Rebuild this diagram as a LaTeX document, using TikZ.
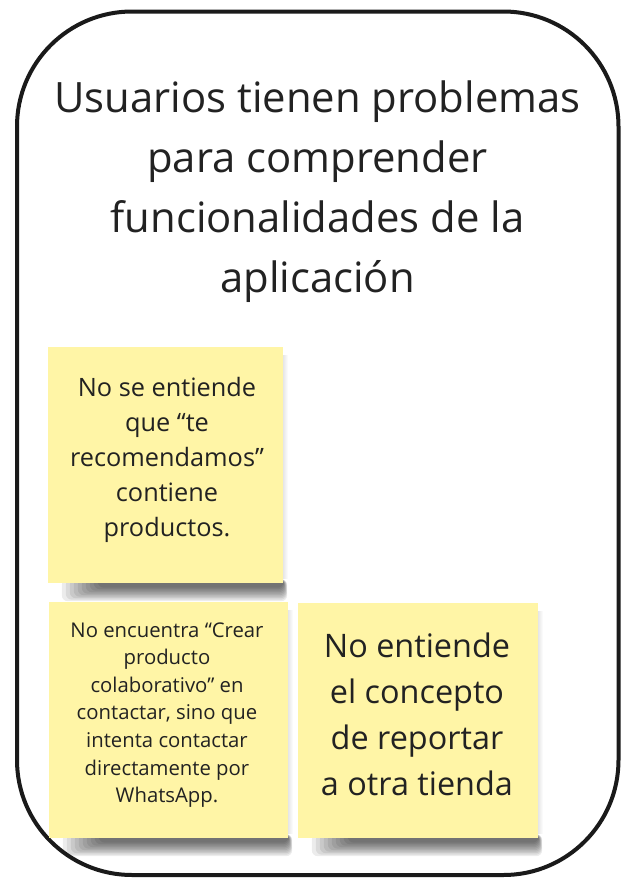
\documentclass[tikz,border=0pt]{standalone}
\usepackage{fontspec}
\setmainfont{Open Sans}
\usetikzlibrary{backgrounds}
\definecolor{ink}{HTML}{222222}
\definecolor{frame}{HTML}{1A1A1A}
\definecolor{sticky}{HTML}{FFF5A6}
\tikzset{
  notebox/.style={draw=none, fill=sticky, inner sep=0pt},
  notetext/.style={align=center, text=ink, inner sep=0pt},
  shadowlayer/.style={fill=black, opacity=0.075},
}
\begin{document}
\begin{tikzpicture}[x=1pt,y=-1pt]
\useasboundingbox (0,0) rectangle (632,886);
\draw[line width=4pt, draw=frame, rounded corners=115pt] (17,11.5) rectangle (618.5,875);
\node[notetext, font=\fontsize{41.8}{60}\selectfont] (title) at (317.5,192) {Usuarios tienen problemas\\para comprender\\funcionalidades de la\\aplicación};
% sticky 1
\node[notebox, minimum width=235pt, minimum height=236pt] (s1) at (165.5,465) {};
\node[notetext, font=\fontsize{25.3}{35}\selectfont] (t1) at (167,460) {No se entiende\\que “te\\recomendamos”\\contiene\\productos.};
% sticky 2
\node[notebox, minimum width=239pt, minimum height=236pt] (s2) at (168.5,720) {};
\node[notetext, font=\fontsize{20.3}{27.6}\selectfont] (t2) at (167,715) {No encuentra “Crear\\producto\\colaborativo” en\\contactar, sino que\\intenta contactar\\directamente por\\WhatsApp.};
% sticky 3
\node[notebox, minimum width=240pt, minimum height=235pt] (s3) at (418,720.5) {};
\node[notetext, font=\fontsize{32.4}{46}\selectfont] (t3) at (417,714) {No entiende\\el concepto\\de reportar\\a otra tienda};
\begin{scope}[on background layer]
  \fill[white] (0,0) rectangle (632,886);
  \foreach \s in {s1,s2,s3}{
    \foreach \i in {0,...,9}{
      \fill[shadowlayer, rounded corners=6pt]
        ([xshift={(14+4*\i)*1pt}, yshift=4pt]\s.south west)
        rectangle ([xshift={(4-0.4*\i)*1pt}, yshift={-(18-1.5*\i)*1pt}]\s.south east);
    }
    \foreach \i in {0,...,4}{
      \fill[black, opacity=0.02]
        ([yshift=-8pt]\s.north east)
        rectangle ([xshift={(5-\i)*1pt}, yshift=4pt]\s.south east);
    }
  }
\end{scope}
\end{tikzpicture}
\end{document}
